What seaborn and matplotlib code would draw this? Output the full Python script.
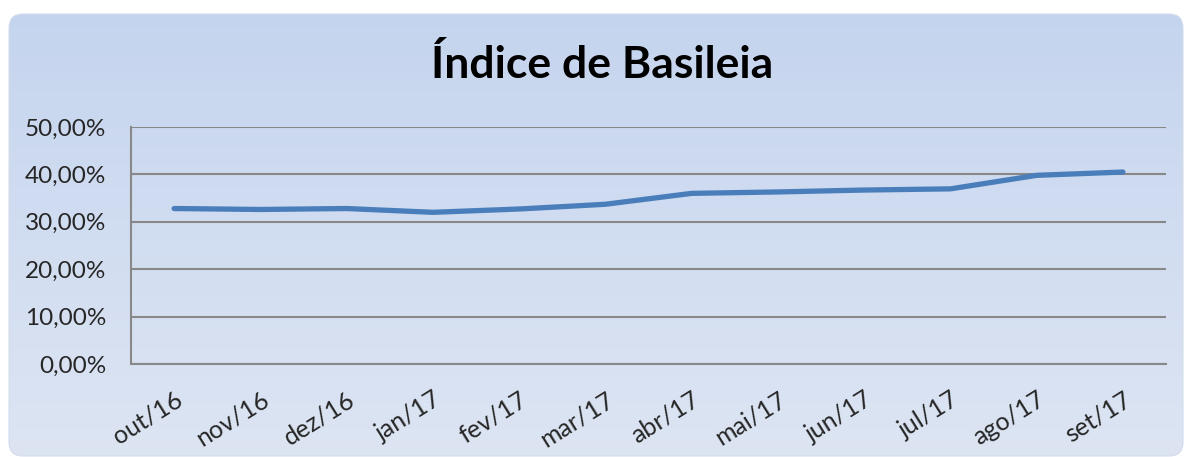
import numpy as np
import pandas as pd
import seaborn as sns
import matplotlib.pyplot as plt
from matplotlib.patches import FancyBboxPatch
from matplotlib.colors import LinearSegmentedColormap

# Dados
meses = ['out/16', 'nov/16', 'dez/16', 'jan/17', 'fev/17', 'mar/17',
         'abr/17', 'mai/17', 'jun/17', 'jul/17', 'ago/17', 'set/17']
indice = [32.8, 32.6, 32.8, 32.0, 32.7, 33.7, 36.0, 36.3, 36.7, 36.95, 39.8, 40.5]
y_ticks = [0, 10, 20, 30, 40, 50]

df = pd.DataFrame({'Mes': meses, 'Indice': indice})

sns.set_theme(style='white')
plt.rcParams['font.family'] = ['Lato', 'DejaVu Sans']

W, H = 1185, 457
fig = plt.figure(figsize=(W / 100, H / 100), dpi=100)
fig.patch.set_facecolor('white')

# fundo com gradiente e cantos arredondados
bg = fig.add_axes([0, 0, 1, 1])
box = FancyBboxPatch((9, 1), W - 11, H - 15,
                     boxstyle='round,pad=0,rounding_size=14',
                     facecolor='none', edgecolor='#d3dced', lw=0.8)
bg.add_patch(box)
grad = np.linspace(0, 1, 256).reshape(-1, 1)
cmap = LinearSegmentedColormap.from_list('fundo', ['#dde5f3', '#c4d4ee'])
im = bg.imshow(grad, extent=[0, W, 0, H], origin='lower', cmap=cmap, aspect='auto')
im.set_clip_path(box)
bg.set_xlim(0, W)
bg.set_ylim(0, H)
bg.axis('off')

# area do grafico
ax = fig.add_axes([131 / W, (H - 364) / H, (1166 - 131) / W, (364 - 127) / H])
ax.patch.set_alpha(0)

sns.lineplot(data=df, x='Mes', y='Indice', sort=False, color='#4a7ebb',
             lw=3.8, solid_capstyle='round', ax=ax)

ax.set_xlim(-0.5, 11.5)
ax.set_ylim(0, 50)
ax.set_yticks(y_ticks)
ax.set_yticklabels([f'{v:.2f}%'.replace('.', ',') for v in y_ticks], fontsize=17.5)
ax.set_xticks(range(len(meses)))
ax.set_xticklabels(meses, rotation=32, ha='right', rotation_mode='anchor', fontsize=18)
ax.set_xticks(np.arange(-0.5, 12, 1), minor=True)
ax.tick_params(axis='x', which='major', length=0, pad=17)
ax.tick_params(axis='x', which='minor', length=7, width=1.5, color='#888888', direction='out')
ax.tick_params(axis='y', length=7, width=1.5, color='#888888', direction='out', pad=11)

ax.grid(axis='y', color='#888888', lw=1.5)
ax.set_axisbelow(True)
for s in ['top', 'right']:
    ax.spines[s].set_visible(False)
for s in ['left', 'bottom']:
    ax.spines[s].set_color('#888888')
    ax.spines[s].set_linewidth(1.5)
ax.set_xlabel('')
ax.set_ylabel('')

fig.text(602 / W, 1 - 65 / H, 'Índice de Basileia', ha='center', va='center',
         fontsize=32, fontweight='bold', color='black')

plt.savefig('out.png', dpi=100)
